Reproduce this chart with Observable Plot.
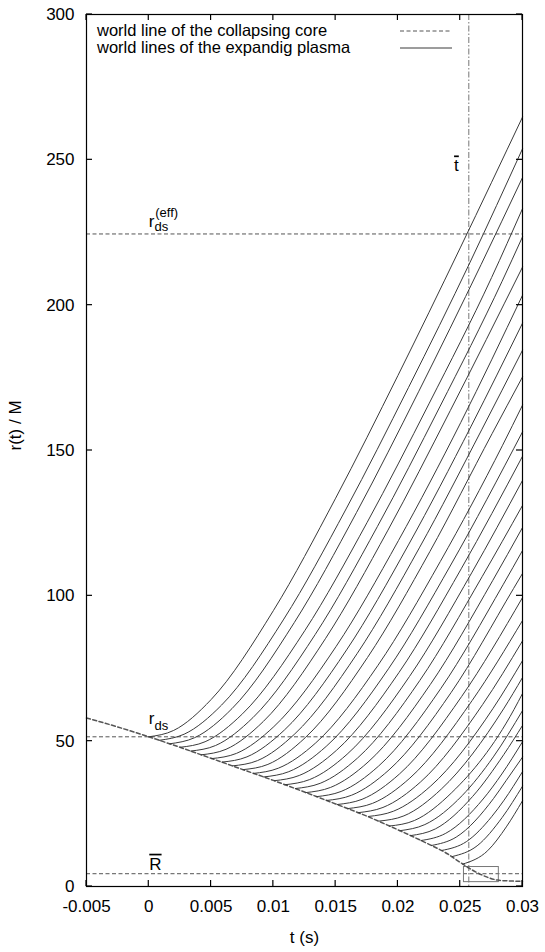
<!DOCTYPE html>
<html><head><meta charset="utf-8">
<script src="https://cdn.jsdelivr.net/npm/d3@7"></script>
<script src="https://cdn.jsdelivr.net/npm/@observablehq/plot@0.6"></script>
<style>
body{margin:0;background:#fff;}
#chart{width:545px;height:952px;}
</style></head><body><div id="chart"></div>
<script>
// ---- data ----
const xTicks = [-0.005, 0, 0.005, 0.01, 0.015, 0.02, 0.025, 0.03];
const yTicks = [0, 50, 100, 150, 200, 250, 300];

// world line of the collapsing core (dashed)
const coreT = [-0.005, -0.0025, 0, 0.0025, 0.005, 0.0075, 0.01, 0.0125, 0.015, 0.0175, 0.02, 0.0225, 0.0238, 0.025, 0.026, 0.027, 0.028, 0.029, 0.03];
const coreR = [58, 54.9, 51.5, 47.9, 44.1, 40.3, 36.5, 32.5, 28.4, 24.2, 19.5, 14.5, 11.7, 8.3, 5.6, 3.5, 2.2, 1.9, 1.8];

// reference levels
const rDs = 51.5;
const rDsEff = 224.5;
const rBar = 4.4;
const tBar = 0.02569;

// small zoom box near the horizon
const boxT = [0.0253, 0.0281];
const boxR = [1.5, 6.7];

// world lines of the expanding plasma: [t, r] points of each line
const worldLines = [
  [[0,51.5],[0.002,53.7],[0.005,64.3],[0.01,94.9],[0.015,133.6],[0.02,175.8],[0.025,219.7],[0.03,264.7]],
  [[0.00084,50.3],[0.00284,52.4],[0.00584,62.4],[0.01084,92.0],[0.01584,129.9],[0.02084,171.6],[0.02584,215.2],[0.03,253.8]],
  [[0.00168,49.1],[0.00368,51.2],[0.00668,61.2],[0.01168,90.8],[0.01668,128.7],[0.02168,170.4],[0.02668,214.0],[0.03,243.9]],
  [[0.00252,47.9],[0.00452,49.8],[0.00752,59.4],[0.01252,88.0],[0.01752,125.2],[0.02252,166.3],[0.02752,209.5],[0.03,233.2]],
  [[0.00336,46.6],[0.00536,48.5],[0.00836,58.1],[0.01336,86.7],[0.01836,123.9],[0.02336,165.0],[0.02836,208.2],[0.03,223.5]],
  [[0.0042,45.3],[0.0062,47.2],[0.0092,56.8],[0.0142,85.4],[0.0192,122.6],[0.0242,163.7],[0.03,213.1]],
  [[0.00504,44.0],[0.00704,45.8],[0.01004,55.0],[0.01504,82.6],[0.02004,119.0],[0.02504,159.6],[0.03,203.4]],
  [[0.00588,42.8],[0.00788,44.6],[0.01088,53.8],[0.01588,81.4],[0.02088,117.8],[0.02588,158.4],[0.03,193.8]],
  [[0.00672,41.5],[0.00872,43.3],[0.01172,52.5],[0.01672,80.1],[0.02172,116.5],[0.02672,157.1],[0.03,184.5]],
  [[0.00756,40.2],[0.00956,42.0],[0.01256,51.2],[0.01756,78.8],[0.02256,115.2],[0.02756,155.8],[0.03,175.3]],
  [[0.0084,38.9],[0.0104,40.7],[0.0134,49.4],[0.0184,76.1],[0.0234,111.8],[0.0284,151.8],[0.03,165.6]],
  [[0.00924,37.7],[0.01124,39.5],[0.01424,48.2],[0.01924,74.9],[0.02424,110.6],[0.03,156.4]],
  [[0.01008,36.4],[0.01208,38.2],[0.01508,46.9],[0.02008,73.6],[0.02508,109.3],[0.03,148.0]],
  [[0.01092,35.0],[0.01292,36.8],[0.01592,45.5],[0.02092,72.2],[0.02592,107.9],[0.03,139.7]],
  [[0.01176,33.7],[0.01376,35.5],[0.01676,44.2],[0.02176,70.9],[0.02676,106.6],[0.03,131.1]],
  [[0.0126,32.3],[0.0146,34.1],[0.0176,42.8],[0.0226,69.5],[0.0276,105.2],[0.03,123.5]],
  [[0.01344,30.9],[0.01544,32.7],[0.01844,41.4],[0.02344,68.1],[0.02844,103.8],[0.03,115.6]],
  [[0.01428,29.6],[0.01628,31.4],[0.01928,40.1],[0.02428,66.8],[0.02928,102.5],[0.03,107.7]],
  [[0.01512,28.2],[0.01712,30.0],[0.02012,38.7],[0.02512,65.4],[0.03,99.4]],
  [[0.01596,26.8],[0.01796,28.6],[0.02096,37.3],[0.02596,64.0],[0.03,91.5]],
  [[0.0168,25.4],[0.0188,27.2],[0.0218,35.9],[0.0268,62.6],[0.03,84.5]],
  [[0.01764,24.1],[0.01964,25.9],[0.02264,34.6],[0.02764,61.3],[0.03,77.7]],
  [[0.01848,22.5],[0.02048,24.3],[0.02348,33.5],[0.02848,61.1],[0.03,71.9]],
  [[0.01932,20.8],[0.02132,22.7],[0.02432,32.3],[0.02932,60.9],[0.03,66.4]],
  [[0.02016,19.2],[0.02216,21.3],[0.02516,31.3],[0.02766,44.6],[0.03,60.5]],
  [[0.021,17.5],[0.023,19.8],[0.026,31.0],[0.0285,45.4],[0.03,55.4]],
  [[0.02184,15.8],[0.02384,18.3],[0.02684,30.1],[0.02834,38.7],[0.03,49.8]],
  [[0.02268,14.1],[0.02468,17.0],[0.02768,30.3],[0.02868,36.4],[0.03,44.5]],
  [[0.02352,12.4],[0.02552,15.5],[0.02752,24.0],[0.02852,29.7],[0.03,39.5]],
  [[0.02436,10.3],[0.02636,14.0],[0.02836,23.7],[0.03,34.5]],
  [[0.0252,7.7],[0.0272,12.3],[0.0287,20.5],[0.03,29.5]]
];

const legendLabels = ["world line of the collapsing core", "world lines of the expandig plasma"];

// ---- tables for the library ----
const coreRows = coreT.map((t, i) => ({t, r: coreR[i]}));
const lineRows = worldLines.flatMap((pts, i) => pts.map(([t, r]) => ({t, r, line: i})));
const boxRows = [{t1: boxT[0], t2: boxT[1], r1: boxR[0], r2: boxR[1]}];

const dashed = "4,2.5";
const dashGray = "#555";
const lineGray = "#3a3a3a";
const font = "'Liberation Sans', Arial, sans-serif";

const chart = Plot.plot({
  width: 545,
  height: 952,
  marginLeft: 86,
  marginRight: 23,
  marginTop: 14,
  marginBottom: 66,
  style: {fontFamily: font, fontSize: "17px", color: "#000", background: "#fff"},
  x: {domain: [-0.005, 0.03]},
  y: {domain: [0, 300]},
  marks: [
    Plot.ruleY([rDs, rDsEff, rBar], {stroke: dashGray, strokeDasharray: dashed}),
    Plot.ruleX([tBar], {stroke: "#777", strokeDasharray: "6,2,1.5,2"}),
    Plot.rect(boxRows, {x1: "t1", x2: "t2", y1: "r1", y2: "r2", fill: "none", stroke: "#777"}),
    Plot.line(coreRows, {x: "t", y: "r", stroke: dashGray, strokeDasharray: dashed, curve: "monotone-x"}),
    Plot.line(lineRows, {x: "t", y: "r", z: "line", stroke: lineGray, strokeWidth: 1, curve: "monotone-x"}),
    Plot.frame({stroke: "#000", strokeWidth: 1.2}),
    Plot.axisX({ticks: xTicks, anchor: "bottom", tickSize: 0, tickPadding: 13, tickFormat: d => String(d), label: null}),
    Plot.axisY({ticks: yTicks, anchor: "left", tickSize: 0, tickPadding: 12, tickFormat: d => String(d), label: null}),
    // annotations
    Plot.text([{t: 0, r: rDsEff}], {x: "t", y: "r", text: () => "r", textAnchor: "start", lineAnchor: "bottom", dy: -7, fill: "#000"}),
    Plot.text([{t: 0, r: rDsEff}], {x: "t", y: "r", text: () => "ds", textAnchor: "start", lineAnchor: "bottom", dx: 5.7, dy: -3, fontSize: 13, fill: "#000"}),
    Plot.text([{t: 0, r: rDsEff}], {x: "t", y: "r", text: () => "(eff)", textAnchor: "start", lineAnchor: "bottom", dx: 6.5, dy: -17, fontSize: 13, fill: "#000"}),
    Plot.text([{t: 0, r: rDs}], {x: "t", y: "r", text: () => "r", textAnchor: "start", lineAnchor: "bottom", dy: -13, fill: "#000"}),
    Plot.text([{t: 0, r: rDs}], {x: "t", y: "r", text: () => "ds", textAnchor: "start", lineAnchor: "bottom", dx: 5.7, dy: -7, fontSize: 13, fill: "#000"}),
    Plot.text([{t: 0, r: rBar}], {x: "t", y: "r", text: () => "R", textAnchor: "start", lineAnchor: "bottom", dx: 0.5, dy: -4, fill: "#000"}),
    Plot.text([{t: tBar, r: 246}], {x: "t", y: "r", text: () => "t", textAnchor: "end", lineAnchor: "bottom", dx: -10, fill: "#000"}),
    // axis titles
    Plot.text([0], {frameAnchor: "left", text: () => "r(t) / M", rotate: -90, dx: -71, lineAnchor: "middle", fill: "#000"}),
    Plot.text([0], {frameAnchor: "bottom", text: () => "t (s)", dy: 51, lineAnchor: "middle", fill: "#000"})
  ]
});

document.getElementById("chart").appendChild(chart);

const svg = d3.select(chart);

// overlines for R-bar and t-bar
svg.selectAll("text").filter(function () { return this.textContent === "R" || this.textContent === "t"; })
  .style("text-decoration", "overline");

// gnuplot-style inward ticks on all four sides, placed through Plot's scales
const sx = chart.scale("x"), sy = chart.scale("y");
const [xl, xr] = sx.range, [yb, yt] = sy.range;
const tk = svg.append("g").attr("stroke", "#000").attr("stroke-width", 1.2);
xTicks.forEach(v => {
  const px = sx.apply(v);
  tk.append("line").attr("x1", px).attr("x2", px).attr("y1", yb).attr("y2", yb - 6);
  tk.append("line").attr("x1", px).attr("x2", px).attr("y1", yt).attr("y2", yt + 6);
});
yTicks.forEach(v => {
  const py = sy.apply(v);
  tk.append("line").attr("x1", xl).attr("x2", xl + 6).attr("y1", py).attr("y2", py);
  tk.append("line").attr("x1", xr).attr("x2", xr - 6).attr("y1", py).attr("y2", py);
});

// legend inside the frame (gnuplot style)
const lg = svg.append("g").attr("font-size", 16.5).attr("fill", "#000")
  .attr("font-family", font).attr("text-anchor", "start");
const left = xl + 11, base0 = yt + 22, step = 17;
legendLabels.forEach((s, i) => {
  lg.append("text").attr("x", left).attr("y", base0 + i * step).attr("text-anchor", "start").text(s);
});
lg.append("line").attr("x1", 400).attr("x2", 452).attr("y1", base0 - 5).attr("y2", base0 - 5)
  .attr("stroke", dashGray).attr("stroke-dasharray", dashed);
lg.append("line").attr("x1", 400).attr("x2", 452).attr("y1", base0 + step - 5).attr("y2", base0 + step - 5)
  .attr("stroke", lineGray);
</script>
</body></html>
